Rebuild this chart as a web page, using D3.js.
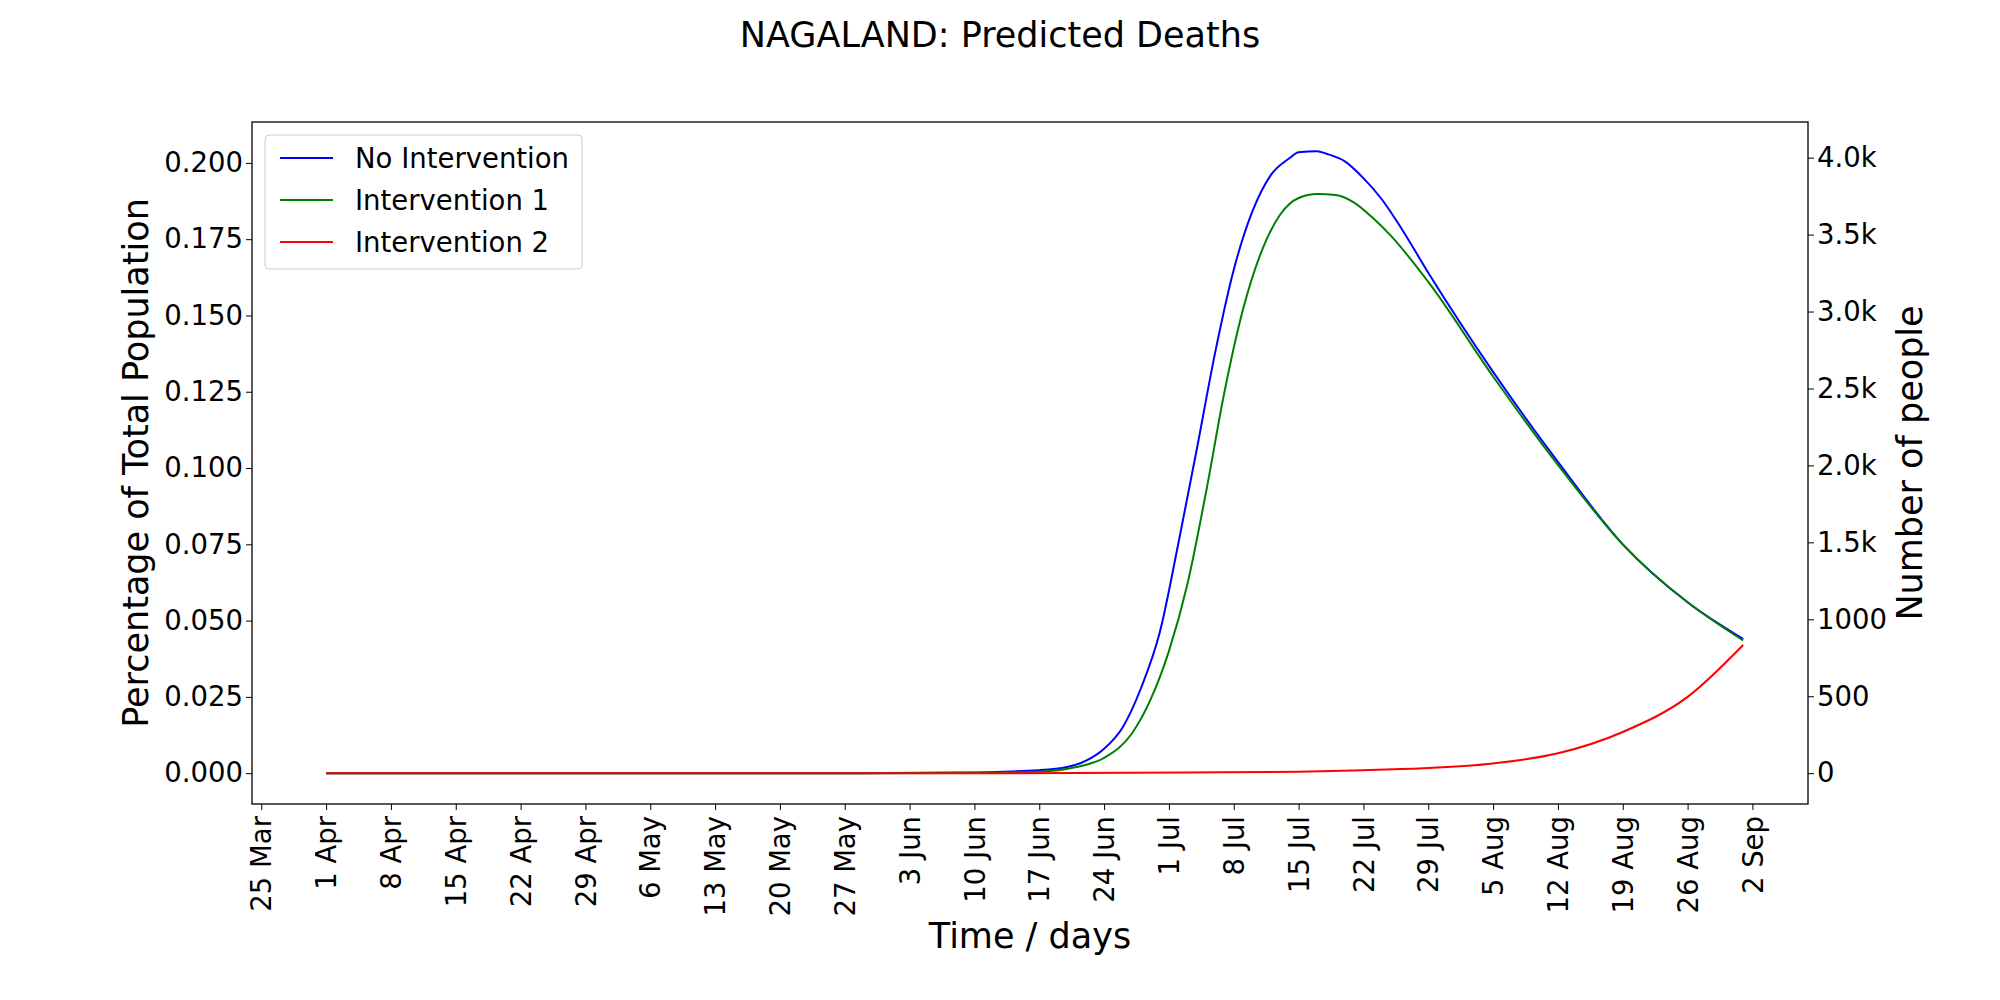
<!DOCTYPE html>
<html><head><meta charset="utf-8">
<script src="https://cdn.jsdelivr.net/npm/d3@7"></script>
<style>body{margin:0;background:#fff}text{font-family:"DejaVu Sans",sans-serif}</style>
</head><body><svg id="c" width="2000" height="1000"></svg>
<script>
// days counted from 25 Mar
var blueDays = [7,20,40,60,75,84,87,89,91,93,95,97,99,101,103,105,107,109,111,112.5,114,115.5,117,119,121,123,126,133,140,147,154,160];
var blueVals = [0,0,0,0,0.0002,0.001,0.002,0.004,0.008,0.015,0.028,0.046,0.075,0.106,0.138,0.165,0.184,0.196,0.2015,0.2035,0.2038,0.2030,0.2005,0.195,0.188,0.179,0.164,0.1315,0.102,0.075,0.056,0.044];
var greenDays = [7,20,40,60,75,84,88,91,94,96,98,100,102,104,106,108,110,112,114,116,118,120,122,126,133,140,147,154,160];
var greenVals = [0,0,0,0,0.0001,0.0005,0.002,0.005,0.013,0.024,0.040,0.062,0.092,0.125,0.152,0.171,0.183,0.1885,0.1898,0.1895,0.187,0.182,0.176,0.161,0.130,0.101,0.075,0.056,0.0435];
var redDays = [7,40,80,100,112,119,126,133,140,147,154,160];
var redVals = [0,0,0,0.0002,0.0005,0.001,0.0017,0.0032,0.0065,0.0135,0.025,0.042];
var seriesNames = ["No Intervention","Intervention 1","Intervention 2"];
var seriesColors = ["blue","green","red"];
var leftTicks = [0,0.025,0.05,0.075,0.1,0.125,0.15,0.175,0.2];
var rightTicks = [0,500,1000,1500,2000,2500,3000,3500,4000];
var population = 1983000;

var svg = d3.select("#c");
var L=252,R=1808,T=122,B=804;
var start = new Date(2020,2,25);
var x = d3.scaleTime().domain([d3.timeDay.offset(start,-0.55), d3.timeDay.offset(start,167.7)]).range([L,R]);
var y = d3.scaleLinear().domain([-0.0101,0.2134]).range([B,T]);
var y2 = d3.scaleLinear().domain(y.domain().map(function(v){return v/100*population;})).range([B,T]);

var xt = d3.range(0,162,7).map(function(d){return d3.timeDay.offset(start,d);});
var fmt = d3.timeFormat("%-d %b");
var fs = 27.5;
svg.append("g").attr("transform","translate(0,"+B+")")
  .call(d3.axisBottom(x).tickValues(xt).tickFormat(fmt).tickSize(6).tickSizeOuter(0))
  .call(function(g){g.selectAll("text").attr("font-size",fs).attr("transform","rotate(-90)")
    .attr("text-anchor","end").attr("x",-12).attr("y",0).attr("dy","0.35em");});
svg.append("g").attr("transform","translate("+L+",0)")
  .call(d3.axisLeft(y).tickValues(leftTicks).tickFormat(d3.format(".3f")).tickSize(6).tickSizeOuter(0))
  .selectAll("text").attr("font-size",fs);
svg.append("g").attr("transform","translate("+R+",0)")
  .call(d3.axisRight(y2).tickValues(rightTicks).tickFormat(function(d){return d>=1500?(d/1000).toFixed(1)+"k":d;}).tickSize(6).tickSizeOuter(0))
  .selectAll("text").attr("font-size",fs);
svg.selectAll(".domain").remove();
svg.append("rect").attr("x",L).attr("y",T).attr("width",R-L).attr("height",B-T).attr("fill","none").attr("stroke","#000").attr("stroke-width",1.3);

var line = d3.line().x(function(d){return x(d3.timeDay.offset(start,d[0]));}).y(function(d){return y(d[1]);}).curve(d3.curveMonotoneX);
[[blueDays,blueVals],[greenDays,greenVals],[redDays,redVals]].forEach(function(s,i){
  svg.append("path").datum(s[0].map(function(d,j){return [d,s[1][j]];}))
    .attr("d",line).attr("fill","none").attr("stroke",seriesColors[i]).attr("stroke-width",2);
});

svg.append("text").attr("x",1000).attr("y",47).attr("text-anchor","middle").attr("font-size",35).text("NAGALAND: Predicted Deaths");
svg.append("text").attr("x",(L+R)/2).attr("y",948).attr("text-anchor","middle").attr("font-size",35).text("Time / days");
svg.append("text").attr("transform","translate(148,"+(T+B)/2+") rotate(-90)").attr("text-anchor","middle").attr("font-size",35).text("Percentage of Total Population");
svg.append("text").attr("transform","translate(1922,"+(T+B)/2+") rotate(-90)").attr("text-anchor","middle").attr("font-size",35).text("Number of people");

var lg = svg.append("g");
lg.append("rect").attr("x",265).attr("y",135).attr("width",317).attr("height",134).attr("rx",4).attr("fill","#fff").attr("stroke","#ccc");
seriesNames.forEach(function(n,i){
  var yy=158+i*42;
  lg.append("line").attr("x1",280).attr("x2",333).attr("y1",yy).attr("y2",yy).attr("stroke",seriesColors[i]).attr("stroke-width",2);
  lg.append("text").attr("x",355).attr("y",yy).attr("dy","0.35em").attr("font-size",fs).text(n);
});
</script></body></html>
